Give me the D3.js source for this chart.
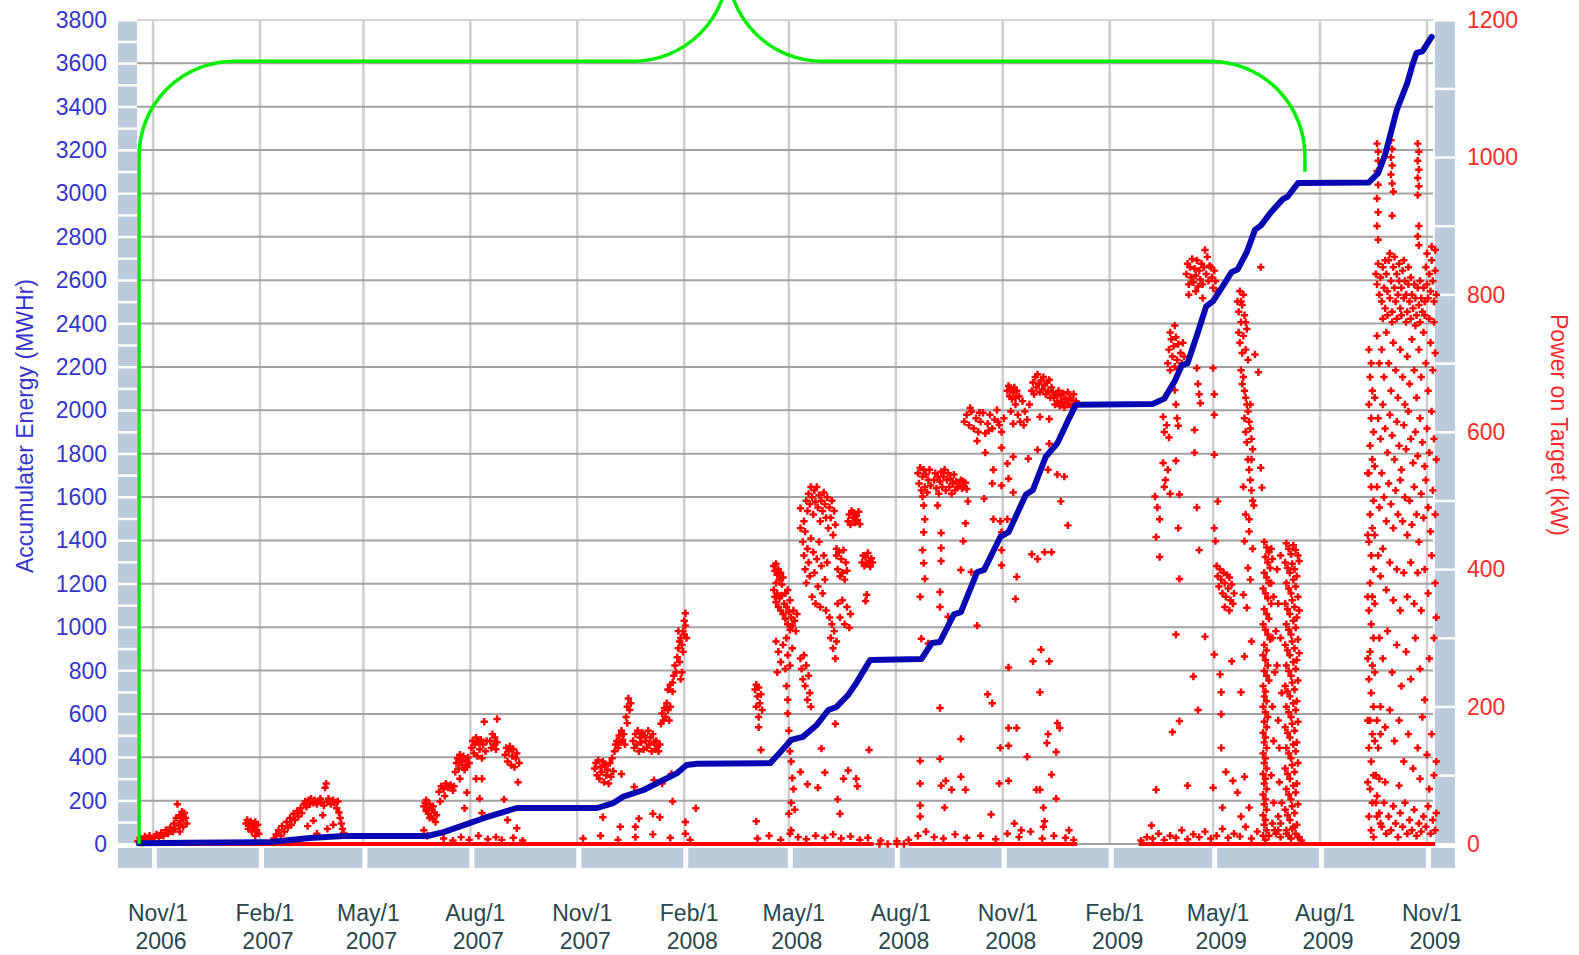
<!DOCTYPE html>
<html>
<head>
<meta charset="utf-8">
<script src="https://cdn.jsdelivr.net/npm/d3@7"></script>
<style>
  body { margin: 0; background: #fff; }
  svg { display: block; font-family: "Liberation Sans", Arial, sans-serif; }
</style>
</head>
<body>
<div id="chart"></div>
<script>
// day offsets are counted from Nov 1 2006
var energyTicks = d3.range(0, 3801, 200);
var powerTicks = d3.range(0, 1201, 200);

// accumulated energy, [day, MWHr]
var energy = [[-12,4],[30,6],[101,9],[135,28],[164,37],[236,37],[250,55],[268,88],[285,120],[302,148],[313,166],
  [382,166],[396,189],[404,217],[422,249],[439,295],[451,327],[459,364],[468,370],[531,373],[539,420],[549,480],
  [559,494],[571,549],[581,618],[588,632],[598,687],[605,742],[617,849],[661,853],[670,927],[677,932],[689,1059],
  [695,1069],[709,1254],[715,1264],[729,1417],[736,1438],[751,1612],[757,1633],[768,1786],[778,1848],[787,1951],
  [794,2026],[860,2029],[870,2054],[879,2135],[885,2207],[890,2217],[899,2361],[906,2479],[912,2504],[922,2587],
  [928,2638],[933,2649],[941,2730],[948,2832],[953,2852],[962,2915],[972,2974],[976,2985],[985,3048],[1046,3051],
  [1054,3094],[1060,3180],[1064,3261],[1070,3385],[1079,3509],[1084,3602],[1087,3648],[1092,3655],[1100,3722]];

// periods where logged power sits on zero, [fromDay, toDay]
var zeroRuns = [[-14,620],[650,795],[848,1103]];

// power on target, [day, kW]
var power2006 = [[-13,4],[-11,9],[-9,6],[-7,11],[-5,8],[-3,12],[-1,7],[1,10],[3,14],[5,9],[7,16],[9,12],[11,20],[13,15],
  [15,24],[17,18],[18,30],[19,22],[20,38],[21,58],[22,27],[23,42],[24,33],[25,47],[26,40],[27,45],[28,38],[29,30],[26,25],[23,18]];

var power2007 = [[625,0],[632,0],[640,0],[646,0],
  [80,30],[81,35],[82,22],[83,28],[84,33],[85,18],[86,30],[87,25],[88,32],[89,20],[90,28],[91,15],[88,12],
  [104,8],[106,14],[108,20],[110,12],[111,26],[113,18],[115,32],[116,24],[118,38],[119,28],[121,44],[122,35],[124,48],
  [125,40],[127,52],[128,45],[130,58],[131,62],[132,54],[134,64],[135,58],[136,66],[138,60],[139,64],[141,58],[142,62],
  [144,66],[145,60],[147,56],[148,82],[149,88],[150,62],[151,66],[153,58],[155,64],[156,60],[158,52],[159,62],[160,46],
  [161,38],[162,30],[163,22],[164,16],[133,26],[138,34],[150,22],[146,42],[141,15],[155,28],
  [233,55],[234,60],[235,48],[236,52],[237,44],[238,58],[239,40],[240,50],[241,36],[242,46],[243,32],[244,42],[235,64],
  [238,38],[241,55],[233,20],[236,12],[246,76],[248,84],[250,80],[252,88],[254,82],[256,86],[258,78],[259,84],[247,62],
  [251,70],[260,105],[261,118],[262,125],[263,110],[264,130],[265,122],[266,115],[267,128],[268,108],[269,120],[270,112],
  [271,126],[272,118],[264,95],[268,52],[270,75],[274,140],[275,150],[276,132],[277,145],[278,155],[279,128],[280,148],
  [281,138],[282,152],[283,125],[284,145],[285,178],[286,135],[287,150],[281,66],[283,95],[283,45],[278,95],[290,150],
  [291,140],[292,160],[293,145],[294,155],[295,138],[296,182],[296,148],[302,65],[303,130],[304,140],[305,120],[306,135],
  [307,142],[308,115],[309,128],[310,138],[311,112],[312,125],[313,132],[314,90],[315,118],[305,35],[313,23],
  [250,8],[258,5],[265,10],[272,6],[280,12],[288,7],[295,10],[300,6],[310,9],[318,5],
  [380,110],[381,118],[382,100],[383,122],[384,95],[385,112],[386,105],[387,120],[388,90],[389,115],[390,100],[391,108],
  [392,88],[393,118],[394,98],[395,125],[396,106],[387,39],[397,135],[398,145],[399,150],[400,140],[401,158],[402,148],
  [403,165],[404,152],[405,160],[406,145],[402,25],[403,102],[407,185],[408,200],[409,212],[410,195],[411,205],[408,176],
  [413,150],[414,140],[415,160],[416,145],[417,165],[418,135],[419,155],[420,148],[421,162],[422,138],[423,158],[424,150],
  [425,140],[426,165],[427,145],[428,155],[429,135],[430,160],[431,148],[432,138],[433,150],[434,142],[435,135],[436,145],
  [414,83],[415,25],[418,37],[430,44],[436,39],[431,93],[438,88],[437,175],[438,190],[439,180],[440,198],[441,185],
  [442,205],[443,195],[444,180],[445,200],[443,225],[445,232],[447,222],[447,235],[448,245],[449,260],[450,250],[451,272],
  [452,285],[453,265],[454,300],[455,290],[456,310],[457,325],[458,336],[457,305],[456,280],[455,250],[454,240],[453,295],
  [452,310],[458,318],[459,300],[446,102],[447,62],[458,32],[467,52],
  [370,8],[385,12],[400,6],[415,10],[430,14],[445,9],[458,15],[462,6]];

var power2008 = [[518,225],[519,232],[520,215],[521,228],[522,205],[523,218],[524,195],[519,200],[521,185],[523,137],
  [521,170],[519,33],[534,405],[535,398],[536,408],[537,392],[538,400],[539,385],[540,395],[541,378],[542,388],[536,380],
  [534,370],[535,360],[536,352],[537,365],[538,345],[539,358],[540,340],[541,362],[542,335],[543,350],[544,328],[545,345],
  [546,320],[547,338],[548,312],[549,330],[550,318],[551,340],[552,325],[553,310],[554,335],[544,365],[546,370],[548,355],
  [536,295],[538,280],[540,265],[542,290],[544,255],[546,275],[548,260],[550,285],[537,250],[545,300],[545,230],[546,210],
  [547,165],[548,150],[549,120],[550,96],[551,80],[549,60],[552,50],[547,44],[549,20],[546,190],[548,135],[557,270],
  [558,255],[559,240],[560,275],[561,230],[562,260],[563,210],[564,245],[565,220],[566,200],[557,489],[557,460],[559,440],
  [560,470],[561,455],[562,500],[563,485],[564,510],[565,495],[566,520],[567,505],[568,480],[569,515],[570,498],[571,520],
  [572,490],[573,508],[574,470],[575,500],[576,485],[577,512],[578,495],[579,475],[580,505],[581,460],[582,490],[583,475],
  [584,500],[585,450],[586,485],[587,465],[588,430],[560,420],[561,400],[562,380],[563,430],[564,410],[565,390],[566,445],
  [567,360],[568,425],[569,395],[570,350],[571,415],[572,375],[573,440],[574,345],[575,405],[576,365],[577,420],[578,385],
  [579,340],[580,410],[588,420],[589,400],[590,425],[591,390],[592,415],[593,395],[594,428],[595,385],[596,410],[597,398],
  [598,470],[599,480],[600,465],[601,485],[602,475],[603,482],[604,468],[605,478],[606,472],[607,484],[608,466],[610,410],
  [611,420],[612,405],[613,418],[614,408],[615,424],[616,412],[617,404],[618,416],[619,410],[614,363],[613,354],[582,330],
  [583,300],[584,320],[585,285],[586,310],[587,270],[588,295],[589,350],[591,330],[593,355],[595,320],[597,345],[599,315],
  [600,335],[557,105],[563,87],[572,82],[578,104],[575,139],[587,175],[589,65],[591,44],[594,95],[598,107],[605,95],
  [606,84],[616,137],
  [520,8],[530,12],[540,6],[548,15],[555,10],[562,7],[570,12],[578,9],[585,14],[592,8],[600,11],[608,6],[615,9],[626,5],
  [640,4],[650,6],[658,12],[665,18],[672,10],[680,8],[690,14],[700,9],[712,12],[725,7],[735,15],[745,10],[755,18],
  [765,8],[775,12],[785,9],[792,6],[741,30],[766,25],[788,20],
  [658,540],[659,525],[660,548],[661,515],[662,535],[663,545],[664,520],[665,538],[666,512],[667,530],[668,545],[669,522],
  [672,530],[673,540],[674,518],[675,535],[676,510],[677,528],[678,542],[679,520],[680,535],[681,545],[682,515],[683,530],
  [684,540],[685,520],[686,532],[687,510],[688,525],[689,538],[690,515],[691,528],[692,520],[694,522],[695,530],[696,518],
  [697,528],[698,520],[699,526],[700,517],[662,506],[663,493],[664,473],[663,454],[662,428],[663,409],[664,386],[660,360],
  [677,367],[677,345],[678,412],[678,431],[678,453],[675,493],[699,467],[701,499],[697,441],[695,399],[684,331],[709,318],
  [704,396],[661,299],[667,292],[660,121],[660,88],[660,56],[660,40],[677,198],[677,124],[678,85],[682,92],[687,79],
  [681,53],[695,153],[695,98],[699,79],
  [698,615],[700,625],[702,610],[704,630],[706,605],[708,620],[710,600],[712,615],[714,628],[716,598],[718,612],[720,625],
  [722,605],[724,618],[726,632],[728,610],[730,600],[732,620],[703,635],[711,628],[719,602],[727,615],[735,660],[736,667],
  [737,652],[738,664],[739,648],[740,658],[741,665],[742,650],[743,660],[738,630],[740,612],[742,640],[744,625],[746,615],
  [748,645],[750,630],[752,618],[754,640],[745,652],[749,610],[756,660],[757,672],[758,655],[759,680],[760,665],[761,684],
  [762,670],[763,658],[764,675],[765,662],[766,680],[767,668],[768,655],[769,672],[770,660],[771,676],[772,650],[773,665],
  [774,658],[775,650],[776,640],[777,655],[778,645],[779,660],[780,638],[781,652],[782,642],[783,656],[784,636],[785,648],
  [786,644],[787,658],[788,640],[789,650],[790,637],[791,646],[792,655],[793,640],[794,645],
  [709,587],[716,570],[723,545],[722,525],[730,577],[730,522],[735,554],[736,532],[740,564],[740,512],[723,473],[729,470],
  [735,473],[730,454],[715,503],[730,428],[730,406],[743,389],[742,357],[753,561],[761,574],[756,422],[761,415],[767,425],
  [773,425],[763,622],[771,619],[771,583],[770,545],[778,538],[784,535],[781,499],[787,464],
  [718,218],[722,205],[736,257],[736,169],[743,169],[729,140],[736,143],[728,88],[736,92],[721,43],[752,127],[757,266],
  [764,283],[771,266],[763,221],[770,160],[769,147],[778,176],[780,169],[777,134],[773,101],[763,79],[760,79],[766,53],
  [767,33],[777,66],[747,20]];

var power2009 = [[873,700],[874,720],[875,690],[876,735],[877,710],[878,725],[879,695],[880,738],[881,705],[882,728],
  [883,692],[884,715],[885,700],[886,730],[887,710],[875,745],[879,755],[889,830],[890,845],[891,815],[892,840],[893,825],
  [894,852],[895,818],[896,838],[897,828],[898,850],[899,812],[900,835],[901,822],[902,845],[903,815],[904,840],[905,865],
  [906,830],[907,855],[908,820],[909,842],[891,800],[897,805],[903,795],[910,840],[911,825],[912,810],[913,835],[914,820],
  [915,805],[869,622],[870,600],[872,610],[874,592],[869,555],[871,530],[873,545],[875,510],[870,520],[862,506],[864,490],
  [866,473],[863,447],[866,418],[879,661],[880,640],[881,620],[882,609],[880,558],[883,509],[882,460],[883,386],[898,693],
  [899,670],[900,655],[901,642],[896,603],[896,570],[898,490],[900,428],[912,693],[913,655],[913,625],[913,567],[916,499],
  [913,460],[914,441],[880,305],[905,302],[895,244],[899,195],[883,179],[877,163],[863,79],[890,85],[912,82],[913,276],
  [918,247],[919,221],[919,189],[919,140],[928,266],[936,221],[939,273],[945,295],[923,105],[929,92],[933,75],[939,98],
  [936,40],[920,53],[943,53],[859,27],
  [915,405],[916,390],[917,375],[918,400],[919,385],[920,365],[921,395],[922,380],[923,360],[924,392],[925,372],[926,388],
  [927,355],[928,378],[929,350],[930,365],[922,345],[926,340],
  [933,790],[934,775],[935,805],[936,760],[937,785],[938,740],[939,770],[940,720],[941,750],[942,705],[935,730],[937,715],
  [934,745],[936,790],[938,800],[940,760],[936,690],[937,670],[938,680],[939,660],[940,650],[941,640],[942,630],[943,615],
  [944,605],[945,590],[946,575],[940,600],[941,585],[942,560],[943,545],[944,530],[945,515],[946,500],[947,493],[948,713],
  [951,687],[953,840],[953,548],[954,519],[943,473],[939,441],[942,402],[938,363],[941,344],[939,620],[944,640],[945,560],
  [938,520],[940,480],[943,455],[946,430],[944,385],
  [850,5],[855,10],[860,8],[865,15],[870,6],[875,12],[880,9],[885,20],[890,7],[895,14],[900,10],[905,18],[910,8],
  [915,12],[920,22],[925,9],[930,15],[935,11],[940,25],[945,8],[950,18],[960,12],[965,20],[970,30],[975,15],[980,22],
  [985,10],[988,5]];

var powerSummer2009 = [[956,440],[958,432],[960,425],[962,430],[957,418],[959,410],[961,402],[963,415],[956,395],
  [958,388],[960,380],[955,372],[957,365],[959,358],[962,350],[956,342],[958,335],[960,328],[955,320],[957,312],[959,305],
  [961,298],[956,290],[958,282],[955,275],[957,268],[959,260],[956,252],[958,245],[960,238],[955,230],[957,222],[956,215],
  [958,208],[955,200],[957,192],[959,185],[956,178],[958,170],[955,162],[957,155],[956,148],[958,140],[955,132],[957,125],
  [956,118],[958,110],[955,102],[957,95],[956,88],[958,80],[955,72],[957,65],[956,58],[958,50],[955,42],[957,35],[956,28],
  [958,20],[955,12],[957,6],[962,380],[964,360],[963,300],[965,250],[963,200],[964,150],[962,100],[964,60],[963,30],
  [966,15],[968,20],[970,10],[966,310],[967,260],[968,180],[969,90],[968,40],
  [975,438],[977,430],[979,422],[981,435],[983,428],[985,420],[974,410],[976,402],[978,395],[980,408],[982,400],[984,390],
  [986,412],[975,380],[977,372],[979,365],[981,385],[983,375],[985,360],[974,350],[976,342],[978,335],[980,355],[982,345],
  [984,330],[986,340],[975,320],[977,312],[979,305],[981,325],[983,315],[985,298],[974,290],[976,282],[978,275],[980,295],
  [982,285],[984,268],[986,278],[975,260],[977,252],[979,245],[981,265],[983,255],[985,238],[974,230],[976,222],[978,215],
  [980,235],[982,225],[984,208],[975,200],[977,192],[979,185],[981,205],[983,195],[985,178],[974,170],[976,162],[978,155],
  [980,175],[982,165],[984,148],[975,140],[977,132],[979,125],[981,145],[983,135],[985,118],[974,110],[976,102],[978,95],
  [980,115],[982,105],[984,88],[975,80],[977,72],[979,65],[981,85],[983,75],[985,58],[974,50],[976,42],[978,35],[980,55],
  [982,45],[984,28],[975,20],[977,12],[979,8],[981,25],[983,15],[986,10],[968,350],[970,300],[971,220],[969,140],[971,60],
  [967,400],[970,420]];

var powerFall2009 = [[1053,1020],[1054,1008],[1054,995],[1053,980],[1054,960],[1053,940],[1054,920],[1053,900],
  [1054,880],[1065,1025],[1066,1012],[1065,1000],[1066,988],[1065,975],[1066,962],[1067,950],[1066,915],[1088,1020],
  [1089,1008],[1088,995],[1089,982],[1088,970],[1089,958],[1088,945],[1089,900],[1088,885],[1089,872],
  [1052,830],[1053,815],[1054,845],[1055,800],[1056,825],[1057,790],[1058,840],[1059,810],[1060,780],[1061,830],[1062,805],
  [1063,850],[1064,795],[1065,820],[1066,775],[1067,840],[1068,810],[1069,790],[1070,830],[1071,800],[1072,820],[1073,780],
  [1074,810],[1075,835],[1076,795],[1077,820],[1078,800],[1079,775],[1080,815],[1081,790],[1082,825],[1083,800],[1084,780],
  [1085,815],[1086,795],[1087,770],[1088,810],[1089,785],[1090,820],[1091,795],[1092,775],[1093,810],[1094,790],[1095,840],
  [1096,815],[1097,795],[1098,830],[1099,805],[1100,850],[1101,820],[1102,790],[1103,835],[1104,800],[1058,765],[1062,770],
  [1066,760],[1070,765],[1074,770],[1078,760],[1082,765],[1086,755],[1090,760],[1094,770],[1098,765],[1102,760],[1060,850],
  [1064,860],[1068,855],[1072,845],[1076,850],[1080,840],[1096,860],[1100,870],[1103,865],
  [1046,720],[1048,700],[1047,680],[1049,660],[1046,640],[1048,620],[1050,600],[1047,580],[1049,560],[1046,540],[1048,520],
  [1050,500],[1047,480],[1049,460],[1046,440],[1048,420],[1050,400],[1047,380],[1049,360],[1046,340],[1048,320],[1050,300],
  [1047,280],[1049,260],[1046,240],[1048,220],[1050,200],[1047,180],[1049,160],[1046,140],[1048,120],[1050,100],[1047,80],
  [1049,60],[1046,40],[1048,20],[1050,10],[1045,90],[1045,180],[1045,270],[1045,360],[1045,450],[1045,540],[1051,150],
  [1051,250],[1051,350],[1051,450],[1051,550],[1051,650],[1052,100],[1052,60],[1053,180],[1054,140],[1055,95],[1056,160],
  [1053,40],[1056,30],
  [1053,740],[1055,700],[1057,720],[1059,680],[1061,745],[1063,700],[1065,660],[1067,730],[1069,690],[1071,650],[1073,720],
  [1075,680],[1077,640],[1079,710],[1081,670],[1083,735],[1085,690],[1087,650],[1089,720],[1091,680],[1093,745],[1095,700],
  [1097,660],[1099,730],[1101,690],[1103,715],[1054,620],[1056,590],[1058,640],[1060,605],[1062,570],[1064,625],[1066,595],
  [1068,560],[1070,615],[1072,580],[1074,545],[1076,610],[1078,575],[1080,630],[1082,590],[1084,555],[1086,600],[1088,565],
  [1090,620],[1092,585],[1094,550],[1096,605],[1098,570],[1100,630],[1102,590],[1104,560],[1053,520],[1055,490],[1057,540],
  [1059,505],[1061,470],[1063,525],[1065,495],[1067,460],[1069,515],[1071,480],[1073,530],[1075,470],[1077,505],[1079,450],
  [1081,500],[1083,465],[1085,520],[1087,480],[1089,440],[1091,510],[1093,475],[1095,530],[1097,490],[1099,455],[1101,515],
  [1103,480],[1054,420],[1056,390],[1058,430],[1061,370],[1064,410],[1067,355],[1070,400],[1073,340],[1076,395],[1079,360],
  [1082,410],[1085,350],[1088,395],[1091,340],[1094,400],[1097,365],[1100,420],[1103,380],[1055,300],[1058,270],[1062,310],
  [1066,250],[1070,290],[1074,230],[1078,280],[1082,240],[1086,300],[1090,255],[1094,210],[1098,270],[1102,300],[1104,330],
  [1056,200],[1060,170],[1064,195],[1068,150],[1072,180],[1076,120],[1080,160],[1084,110],[1088,140],[1092,185],[1096,130],
  [1100,160],[1104,120],[1053,70],[1055,45],[1057,25],[1059,60],[1061,15],[1063,40],[1065,20],[1067,55],[1069,30],
  [1071,10],[1073,45],[1075,25],[1077,60],[1079,15],[1081,35],[1083,20],[1085,50],[1087,12],[1089,30],[1091,18],[1093,40],
  [1095,25],[1097,55],[1099,15],[1101,35],[1103,20],[1104,45],[1060,90],[1072,85],[1090,95],[1098,80],[1102,100]];

// green brace: [day, MWHr] anchors
var braceLeftDay = -12, braceMidLeftDay = 413, braceMidRightDay = 576, braceRightDay = 991;
var braceTop = 3610, braceEnd = 3100;

var width = 1579, height = 955;
var plot = {left: 137, right: 1433, top: 20, bottom: 844};

var start = Date.UTC(2006, 10, 1);
function toDate(d) { return new Date(start + d * 864e5); }

var svg = d3.select('#chart').append('svg')
            .attr('width', width)
            .attr('height', height);

var x = d3.scaleUtc()
          .domain([new Date(start), new Date(Date.UTC(2009, 10, 1))])
          .range([153, 1427]);
var yE = d3.scaleLinear().domain([0, 3800]).range([plot.bottom, plot.top]);
var yP = d3.scaleLinear().domain([0, 1200]).range([plot.bottom, plot.top]);

// every third month starting Nov 1 2006
var monthTicks = d3.utcMonth.range(new Date(start), new Date(Date.UTC(2009, 10, 2)), 3);

// side bands
var band = '#bccbdb';
var bands = svg.append('g');
d3.range(0, 3800, 100).forEach(function(v) {
  bands.append('rect').attr('x', 118).attr('width', 19)
       .attr('y', yE(v + 100) + 1.5).attr('height', yE(v) - yE(v + 100) - 2.5)
       .attr('fill', band);
});
d3.range(0, 1200, 100).forEach(function(v) {
  bands.append('rect').attr('x', 1435).attr('width', 20)
       .attr('y', yP(v + 100) + 1.5).attr('height', yP(v) - yP(v + 100) - 2.5)
       .attr('fill', band);
});
var cuts = [118].concat(monthTicks.map(function(t) { return x(t) + 4; }));
var ends = monthTicks.map(function(t) { return x(t) - 1; }).concat([1455]);
cuts.forEach(function(c, i) {
  bands.append('rect').attr('x', c).attr('width', ends[i] - c)
       .attr('y', 848).attr('height', 20).attr('fill', band);
});

// grid
var grid = svg.append('g');
grid.selectAll('.vline').data(monthTicks).enter().append('line')
    .attr('x1', function(d) { return x(d); }).attr('x2', function(d) { return x(d); })
    .attr('y1', plot.top).attr('y2', plot.bottom)
    .attr('stroke', '#cdcdcd').attr('stroke-width', 2.5);
grid.selectAll('.hline').data(energyTicks).enter().append('line')
    .attr('x1', plot.left).attr('x2', plot.right)
    .attr('y1', function(d) { return yE(d); }).attr('y2', function(d) { return yE(d); })
    .attr('stroke', function(d) { return d === 3800 ? '#d4d4d4' : '#a2a2a2'; })
    .attr('stroke-width', 2);

// power on target
var red = '#ff0000';
svg.append('g').selectAll('line').data(zeroRuns).enter().append('line')
   .attr('x1', function(d) { return x(toDate(d[0])); })
   .attr('x2', function(d) { return x(toDate(d[1])); })
   .attr('y1', yP(0)).attr('y2', yP(0))
   .attr('stroke', red).attr('stroke-width', 4);

var allPower = power2006.concat(power2007, power2008, power2009, powerSummer2009, powerFall2009);
var cross = d3.symbol().type(d3.symbolCross).size(30);
svg.append('g').selectAll('path').data(allPower).enter().append('path')
   .attr('d', cross)
   .attr('transform', function(d) { return 'translate(' + x(toDate(d[0])) + ',' + yP(d[1]) + ')'; })
   .attr('fill', red);

// accumulated energy
var line = d3.line()
             .x(function(d) { return x(toDate(d[0])); })
             .y(function(d) { return yE(d[1]); });
svg.append('path')
   .attr('d', line(energy))
   .attr('fill', 'none')
   .attr('stroke', '#0808b2')
   .attr('stroke-width', 6)
   .attr('stroke-linejoin', 'round')
   .attr('stroke-linecap', 'round');

// green brace
var r = 95;
var bl = x(toDate(braceLeftDay)), bml = x(toDate(braceMidLeftDay)),
    bmr = x(toDate(braceMidRightDay)), br = x(toDate(braceRightDay));
var bt = yE(braceTop);
var brace = d3.path();
brace.moveTo(bl, yE(0));
brace.lineTo(bl, bt + r);
brace.arcTo(bl, bt, bl + r, bt, r);
brace.lineTo(bml, bt);
brace.arc(bml, bt - r, r, Math.PI / 2, 0, true);
brace.moveTo(bmr - r, bt - r);
brace.arc(bmr, bt - r, r, Math.PI, Math.PI / 2, true);
brace.lineTo(br - r, bt);
brace.arcTo(br, bt, br, bt + r, r);
brace.lineTo(br, yE(braceEnd));
svg.append('path')
   .attr('d', brace.toString())
   .attr('fill', 'none')
   .attr('stroke', '#00ee00')
   .attr('stroke-width', 3.5);

// axes text
var blue = '#3535cc', redText = '#ff2a2a', grey = '#28464c';
var fs = 23;
svg.append('g').selectAll('text').data(energyTicks).enter().append('text')
   .attr('x', 107).attr('y', function(d) { return yE(d) + 8; })
   .attr('text-anchor', 'end').attr('font-size', fs).attr('fill', blue)
   .text(function(d) { return d; });
svg.append('g').selectAll('text').data(powerTicks).enter().append('text')
   .attr('x', 1467).attr('y', function(d) { return yP(d) + 8; })
   .attr('font-size', fs).attr('fill', redText)
   .text(function(d) { return d; });

var fmtMonth = d3.utcFormat('%b'), fmtYear = d3.utcFormat('%Y');
var xl = svg.append('g').selectAll('g').data(monthTicks).enter().append('g');
xl.append('text')
  .attr('x', function(d) { return x(d) + 5; }).attr('y', 921)
  .attr('text-anchor', 'middle').attr('font-size', fs).attr('fill', grey)
  .text(function(d) { return fmtMonth(d) + '/1'; });
xl.append('text')
  .attr('x', function(d) { return x(d) + 8; }).attr('y', 949)
  .attr('text-anchor', 'middle').attr('font-size', fs).attr('fill', grey)
  .text(function(d) { return fmtYear(d); });

svg.append('text')
   .attr('transform', 'translate(33,426) rotate(-90)')
   .attr('text-anchor', 'middle').attr('font-size', fs).attr('fill', blue)
   .text('Accumulater Energy (MWHr)');
svg.append('text')
   .attr('transform', 'translate(1551,425) rotate(90)')
   .attr('text-anchor', 'middle').attr('font-size', fs).attr('fill', redText)
   .text('Power on Target (kW)');
</script>
</body>
</html>
